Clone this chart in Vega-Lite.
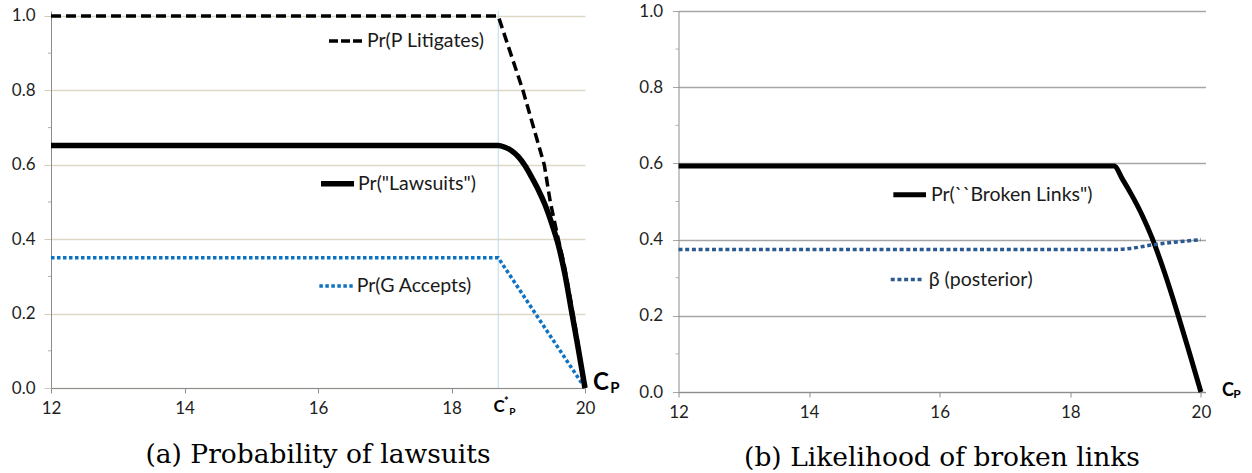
{
  "$schema": "https://vega.github.io/schema/vega-lite/v6.json",
  "background": "white",
  "padding": {"left": 11, "top": 2, "right": 0, "bottom": 0},
  "bounds": "flush",
  "spacing": 93.5,
  "config": {
    "view": {"stroke": null},
    "font": "Lato",
    "axis": {"labelFont": "Lato", "labelFontSize": 17, "labelColor": "#1f1f1f", "title": null, "labelFlush": false}
  },
  "datasets": {
    "a": [
      {"s": "ga", "x": 12, "y": 0.35}, {"s": "ga", "x": 18.7, "y": 0.35}, {"s": "ga", "x": 20, "y": 0.0},
      {"s": "lit", "x": 12, "y": 1.0}, {"s": "lit", "x": 18.7, "y": 1.0}, {"s": "lit", "x": 19.07, "y": 0.8},
      {"s": "lit", "x": 19.39, "y": 0.6}, {"s": "lit", "x": 19.48, "y": 0.5}, {"s": "lit", "x": 19.6, "y": 0.4},
      {"s": "lit", "x": 19.69, "y": 0.33}, {"s": "lit", "x": 19.85, "y": 0.17}, {"s": "lit", "x": 20, "y": 0.0},
      {"s": "law", "x": 12, "y": 0.652}, {"s": "law", "x": 18.7, "y": 0.652}, {"s": "law", "x": 18.8, "y": 0.647},
      {"s": "law", "x": 18.9, "y": 0.638}, {"s": "law", "x": 19.0, "y": 0.622}, {"s": "law", "x": 19.1, "y": 0.598},
      {"s": "law", "x": 19.2, "y": 0.567}, {"s": "law", "x": 19.3, "y": 0.533}, {"s": "law", "x": 19.4, "y": 0.493},
      {"s": "law", "x": 19.5, "y": 0.443}, {"s": "law", "x": 19.6, "y": 0.385}, {"s": "law", "x": 19.7, "y": 0.305},
      {"s": "law", "x": 19.8, "y": 0.205}, {"s": "law", "x": 19.9, "y": 0.105}, {"s": "law", "x": 20, "y": 0.0}
    ],
    "b": [
      {"s": "bl", "x": 12, "y": 0.593}, {"s": "bl", "x": 18.67, "y": 0.593}, {"s": "bl", "x": 18.8, "y": 0.558},
      {"s": "bl", "x": 18.93, "y": 0.52}, {"s": "bl", "x": 19.1, "y": 0.464}, {"s": "bl", "x": 19.25, "y": 0.405},
      {"s": "bl", "x": 19.44, "y": 0.315}, {"s": "bl", "x": 19.645, "y": 0.205}, {"s": "bl", "x": 19.82, "y": 0.105},
      {"s": "bl", "x": 20, "y": 0.0},
      {"s": "beta", "x": 12, "y": 0.374}, {"s": "beta", "x": 18.7, "y": 0.374}, {"s": "beta", "x": 18.93, "y": 0.377},
      {"s": "beta", "x": 19.25, "y": 0.386}, {"s": "beta", "x": 19.64, "y": 0.394}, {"s": "beta", "x": 20, "y": 0.40}
    ],
    "minor": [
      {"x": 12, "y": 0.1}, {"x": 12, "y": 0.3}, {"x": 12, "y": 0.5}, {"x": 12, "y": 0.7}, {"x": 12, "y": 0.9}
    ]
  },
  "hconcat": [
    {
      "width": 534,
      "height": 377,
      "title": {"text": "(a) Probability of lawsuits", "orient": "bottom", "anchor": "middle", "font": "DejaVu Serif", "fontSize": 26.5, "fontWeight": "normal", "color": "#000000", "offset": 25},
      "encoding": {
        "x": {"field": "x", "type": "quantitative", "scale": {"domain": [12, 20], "nice": false, "zero": false},
          "axis": {"values": [12, 14, 16, 18, 20], "format": "d", "grid": false, "domainColor": "#8c8c8c", "tickColor": "#8c8c8c", "tickSize": 5, "labelPadding": 7}},
        "y": {"field": "y", "type": "quantitative", "scale": {"domain": [0, 1.0134], "nice": false, "zero": false},
          "axis": {"values": [0, 0.2, 0.4, 0.6, 0.8, 1.0], "format": ".1f", "grid": true, "gridColor": "#ddd8c6", "gridWidth": 1.3, "domainColor": "#8c8c8c", "tickColor": "#cfcab8", "tickSize": 7, "labelPadding": 9}}
      },
      "layer": [
        {"data": {"values": [{"x": 18.7, "y": 0, "y2": 1.0134}]},
          "mark": {"type": "rule", "color": "#b9dceb", "strokeWidth": 1},
          "encoding": {"y2": {"field": "y2"}}},
        {"data": {"name": "minor"}, "mark": {"type": "tick", "orient": "horizontal", "size": 3, "thickness": 1, "xOffset": -1.5, "color": "#8c8c8c"}},
        {"data": {"name": "a"}, "transform": [{"filter": "datum.s == 'ga'"}],
          "mark": {"type": "line", "color": "#0b72c4", "strokeWidth": 3.5, "strokeDash": [3.5, 2.5], "strokeCap": "butt"}},
        {"data": {"name": "a"}, "transform": [{"filter": "datum.s == 'lit'"}],
          "mark": {"type": "line", "color": "#000000", "strokeWidth": 3.5, "strokeDash": [10, 5], "strokeCap": "butt"}},
        {"data": {"name": "a"}, "transform": [{"filter": "datum.s == 'law'"}],
          "mark": {"type": "line", "color": "#000000", "strokeWidth": 5.5, "strokeJoin": "round", "interpolate": "monotone"}},
        {"data": {"values": [{"x": 16.165, "x2": 16.674, "y": 0.933, "t": "Pr(P Litigates)"}]},
          "layer": [
            {"mark": {"type": "rule", "color": "#000000", "strokeWidth": 3.5, "strokeDash": [9, 3]}, "encoding": {"x2": {"field": "x2"}}},
            {"mark": {"type": "text", "align": "left", "baseline": "middle", "dx": 4, "fontSize": 19.5, "font": "Lato", "color": "#1a1a1a"}, "encoding": {"x": {"field": "x2", "type": "quantitative"}, "text": {"field": "t"}}}
          ]},
        {"data": {"values": [{"x": 16.045, "x2": 16.54, "y": 0.549, "t": "Pr(\"Lawsuits\")"}]},
          "layer": [
            {"mark": {"type": "rule", "color": "#000000", "strokeWidth": 5.5}, "encoding": {"x2": {"field": "x2"}}},
            {"mark": {"type": "text", "align": "left", "baseline": "middle", "dx": 4, "fontSize": 19.5, "font": "Lato", "color": "#1a1a1a"}, "encoding": {"x": {"field": "x2", "type": "quantitative"}, "text": {"field": "t"}}}
          ]},
        {"data": {"values": [{"x": 16.02, "x2": 16.52, "y": 0.274, "t": "Pr(G Accepts)"}]},
          "layer": [
            {"mark": {"type": "rule", "color": "#0b72c4", "strokeWidth": 3.5, "strokeDash": [3.5, 2.5]}, "encoding": {"x2": {"field": "x2"}}},
            {"mark": {"type": "text", "align": "left", "baseline": "middle", "dx": 4, "fontSize": 19.5, "font": "Lato", "color": "#1a1a1a"}, "encoding": {"x": {"field": "x2", "type": "quantitative"}, "text": {"field": "t"}}}
          ]},
        {"data": {"values": [{"x": 20, "y": 0, "t": "C"}]},
          "mark": {"type": "text", "align": "center", "baseline": "middle", "dx": 16, "dy": -5, "fontSize": 24, "fontWeight": "bold", "font": "Lato", "color": "#000000"},
          "encoding": {"text": {"field": "t"}}},
        {"data": {"values": [{"x": 20, "y": 0, "t": "P"}]},
          "mark": {"type": "text", "align": "center", "baseline": "middle", "dx": 30, "dy": 0, "fontSize": 15, "fontWeight": "bold", "font": "Lato", "color": "#000000"},
          "encoding": {"text": {"field": "t"}}},
        {"data": {"values": [{"x": 18.7, "y": 0, "t": "C"}]},
          "mark": {"type": "text", "align": "center", "baseline": "middle", "dx": 1, "dy": 19, "fontSize": 17, "fontWeight": "bold", "font": "Lato", "color": "#000000"},
          "encoding": {"text": {"field": "t"}}},
        {"data": {"values": [{"x": 18.7, "y": 0, "t": "*"}]},
          "mark": {"type": "text", "align": "center", "baseline": "middle", "dx": 8, "dy": 14, "fontSize": 11, "fontWeight": "bold", "font": "Lato", "color": "#000000"},
          "encoding": {"text": {"field": "t"}}},
        {"data": {"values": [{"x": 18.7, "y": 0, "t": "P"}]},
          "mark": {"type": "text", "align": "center", "baseline": "middle", "dx": 14, "dy": 24, "fontSize": 10, "fontWeight": "bold", "font": "Lato", "color": "#000000"},
          "encoding": {"text": {"field": "t"}}}
      ]
    },
    {
      "width": 527,
      "height": 381,
      "title": {"text": "(b) Likelihood of broken links", "orient": "bottom", "anchor": "middle", "font": "DejaVu Serif", "fontSize": 26.5, "fontWeight": "normal", "color": "#000000", "offset": 25},
      "encoding": {
        "x": {"field": "x", "type": "quantitative", "scale": {"domain": [12, 20.07], "nice": false, "zero": false},
          "axis": {"values": [12, 14, 16, 18, 20], "format": "d", "grid": false, "domainColor": "#8c8c8c", "tickColor": "#8c8c8c", "tickSize": 5, "labelPadding": 7}},
        "y": {"field": "y", "type": "quantitative", "scale": {"domain": [0, 1], "nice": false, "zero": false},
          "axis": {"values": [0, 0.2, 0.4, 0.6, 0.8, 1.0], "format": ".1f", "grid": true, "gridColor": "#a6a6a6", "gridWidth": 1.3, "domainColor": "#8c8c8c", "tickColor": "#a6a6a6", "tickSize": 6, "labelPadding": 10}}
      },
      "layer": [
        {"data": {"name": "minor"}, "mark": {"type": "tick", "orient": "horizontal", "size": 3, "thickness": 1, "xOffset": -1.5, "color": "#8c8c8c"}},
        {"data": {"name": "b"}, "transform": [{"filter": "datum.s == 'bl'"}],
          "mark": {"type": "line", "color": "#000000", "strokeWidth": 5, "strokeJoin": "round", "interpolate": "monotone"}},
        {"data": {"name": "b"}, "transform": [{"filter": "datum.s == 'beta'"}],
          "mark": {"type": "line", "color": "#2b5a91", "strokeWidth": 3.5, "strokeDash": [4, 2.7], "strokeCap": "butt", "interpolate": "monotone"}},
        {"data": {"values": [{"x": 15.29, "x2": 15.79, "y": 0.518, "t": "Pr(``Broken Links\")"}]},
          "layer": [
            {"mark": {"type": "rule", "color": "#000000", "strokeWidth": 5}, "encoding": {"x2": {"field": "x2"}}},
            {"mark": {"type": "text", "align": "left", "baseline": "middle", "dx": 5, "fontSize": 19.5, "font": "Lato", "color": "#1a1a1a"}, "encoding": {"x": {"field": "x2", "type": "quantitative"}, "text": {"field": "t"}}}
          ]},
        {"data": {"values": [{"x": 15.25, "x2": 15.74, "y": 0.295, "t": "β (posterior)"}]},
          "layer": [
            {"mark": {"type": "rule", "color": "#2b5a91", "strokeWidth": 3.5, "strokeDash": [4, 2.7]}, "encoding": {"x2": {"field": "x2"}}},
            {"mark": {"type": "text", "align": "left", "baseline": "middle", "dx": 6, "fontSize": 19.5, "font": "Lato", "color": "#1a1a1a"}, "encoding": {"x": {"field": "x2", "type": "quantitative"}, "text": {"field": "t"}}}
          ]},
        {"data": {"values": [{"x": 20, "y": 0, "t": "C"}]},
          "mark": {"type": "text", "align": "center", "baseline": "middle", "dx": 27, "dy": -1, "fontSize": 18, "fontWeight": "bold", "font": "Lato", "color": "#000000"},
          "encoding": {"text": {"field": "t"}}},
        {"data": {"values": [{"x": 20, "y": 0, "t": "P"}]},
          "mark": {"type": "text", "align": "center", "baseline": "middle", "dx": 36, "dy": 2, "fontSize": 12, "fontWeight": "bold", "font": "Lato", "color": "#000000"},
          "encoding": {"text": {"field": "t"}}}
      ]
    }
  ]
}
